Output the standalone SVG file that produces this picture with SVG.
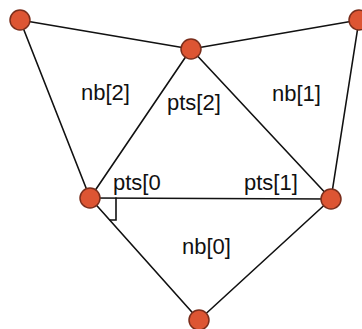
<svg xmlns="http://www.w3.org/2000/svg" width="362" height="329" viewBox="0 0 362 329">
<style>
.e{stroke:#111;stroke-width:1.6;fill:none;stroke-linecap:round}
.n{fill:#dd5533;stroke:#7a2e1c;stroke-width:1.5}
.t{font-family:"Liberation Sans",Arial,sans-serif;font-size:22px;fill:#111}
</style>
<rect width="362" height="329" fill="#fff"/>
<g id="connectors">
<line class="e" x1="20" y1="20" x2="191" y2="49"/>
<line class="e" x1="20" y1="20" x2="90" y2="198"/>
<line class="e" x1="191" y1="49" x2="359" y2="20"/>
<line class="e" x1="191" y1="49" x2="90" y2="198"/>
<line class="e" x1="191" y1="49" x2="331" y2="199"/>
<line class="e" x1="359" y1="20" x2="331" y2="199"/>
<line class="e" x1="90" y1="198" x2="331" y2="199"/>
<line class="e" x1="90" y1="198" x2="199" y2="320"/>
<line class="e" x1="331" y1="199" x2="199" y2="320"/>
<path class="e" d="M116,198 V220 H110"/>
</g>
<g id="n_tl"><circle class="n" cx="20" cy="20" r="10"/></g>
<g id="n_tm"><circle class="n" cx="191" cy="49" r="10"/></g>
<g id="n_tr"><circle class="n" cx="359" cy="20" r="10"/></g>
<g id="n_p0"><circle class="n" cx="90" cy="198" r="10"/></g>
<g id="n_p1"><circle class="n" cx="331" cy="199" r="10"/></g>
<g id="n_b"><circle class="n" cx="199" cy="320" r="10"/></g>
<g id="labels">
<text class="t" x="81" y="100">nb[2]</text>
<text class="t" x="167" y="110">pts[2]</text>
<text class="t" x="272" y="101">nb[1]</text>
<text class="t" x="113" y="190">pts[0</text>
<text class="t" x="244" y="190">pts[1]</text>
<text class="t" x="182" y="254">nb[0]</text>
</g>
</svg>
